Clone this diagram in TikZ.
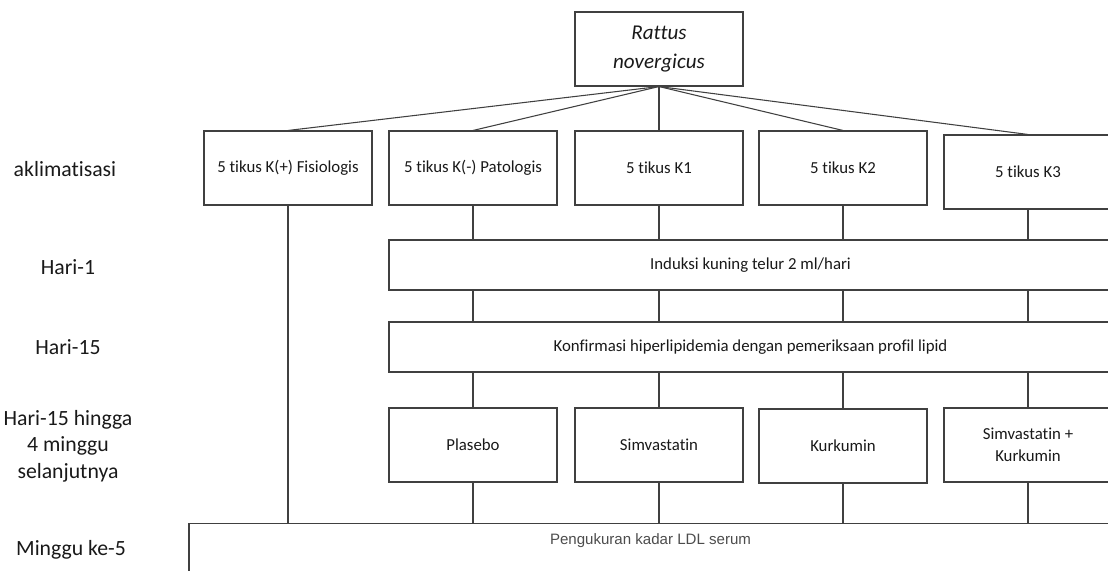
\documentclass[tikz,border=0pt]{standalone}
\usepackage{fontspec}
\setmainfont[Ligatures={NoCommon}]{Carlito}
\newfontfamily\arialfont{Liberation Sans}

\begin{document}
\begin{tikzpicture}[x=0.75pt, y=-0.75pt,
  box/.style={draw=black!75, line width=0.8pt, minimum width=126pt, minimum height=55.5pt, align=center, inner sep=2pt, text=black!90, font=\fontsize{12.6}{16.5}\selectfont},
  wide/.style={box, minimum width=542.25pt, minimum height=37.5pt},
  stage/.style={align=center, text=black!90, font=\fontsize{16.3}{20}\selectfont},
  link/.style={draw=black!75, line width=0.8pt}]
\useasboundingbox (0,0) rectangle (1108,571);
\clip (0,0) rectangle (1108,571);

\node[box, font=\fontsize{15.8}{21.7}\selectfont\itshape] (rattus) at (659,49) {Rattus\\novergicus};

\node[box] (fis) at (288,168) {5 tikus K(+) Fisiologis};
\node[box] (pat) at (473,168) {5 tikus K(-) Patologis};
\node[box] (k1) at (659,168) {5 tikus K1};
\node[box] (k2) at (843,168) {5 tikus K2};
\node[box] (k3) at (1028,172) {5 tikus K3};

\node[wide] (induksi) at (750.5,265) {Induksi kuning telur 2 ml/hari};
\node[wide] (konfirmasi) at (750.5,347) {Konfirmasi hiperlipidemia dengan pemeriksaan profil lipid};

\node[box] (plasebo) at (473,445) {Plasebo};
\node[box] (simva) at (659,445) {Simvastatin};
\node[box] (kurkumin) at (843,446) {Kurkumin};
\node[box] (kombinasi) at (1028,445) {Simvastatin +\\Kurkumin};

\node[box, anchor=north, minimum width=692.25pt, inner ysep=3.5pt, text height=12pt, text depth=60pt, text=black!70, font=\arialfont\fontsize{11.3}{13}\selectfont] (ldl) at (650.5,523) {Pengukuran kadar LDL serum};

\node[stage] (aklim) at (65,169) {aklimatisasi};
\node[stage] (hari1) at (68,267) {Hari-1};
\node[stage] (hari15) at (68,347) {Hari-15};
\node[stage] (terapi) at (68,446) {Hari-15 hingga\\4 minggu\\selanjutnya};
\node[stage] (minggu5) at (71,550) {Minggu ke-5};

\foreach \g in {fis, pat, k1, k2, k3}
  \draw[link] (rattus.south) -- (\g.north);
\draw[link] (fis.south) -- (fis.south |- ldl.north);
\foreach \g/\t in {pat/plasebo, k1/simva, k2/kurkumin, k3/kombinasi} {
  \draw[link] (\g.south) -- (\g.south |- induksi.north);
  \draw[link] (\g.south |- induksi.south) -- (\g.south |- konfirmasi.north);
  \draw[link] (\t.north |- konfirmasi.south) -- (\t.north);
  \draw[link] (\t.south) -- (\t.south |- ldl.north);
}
\end{tikzpicture}
\end{document}
